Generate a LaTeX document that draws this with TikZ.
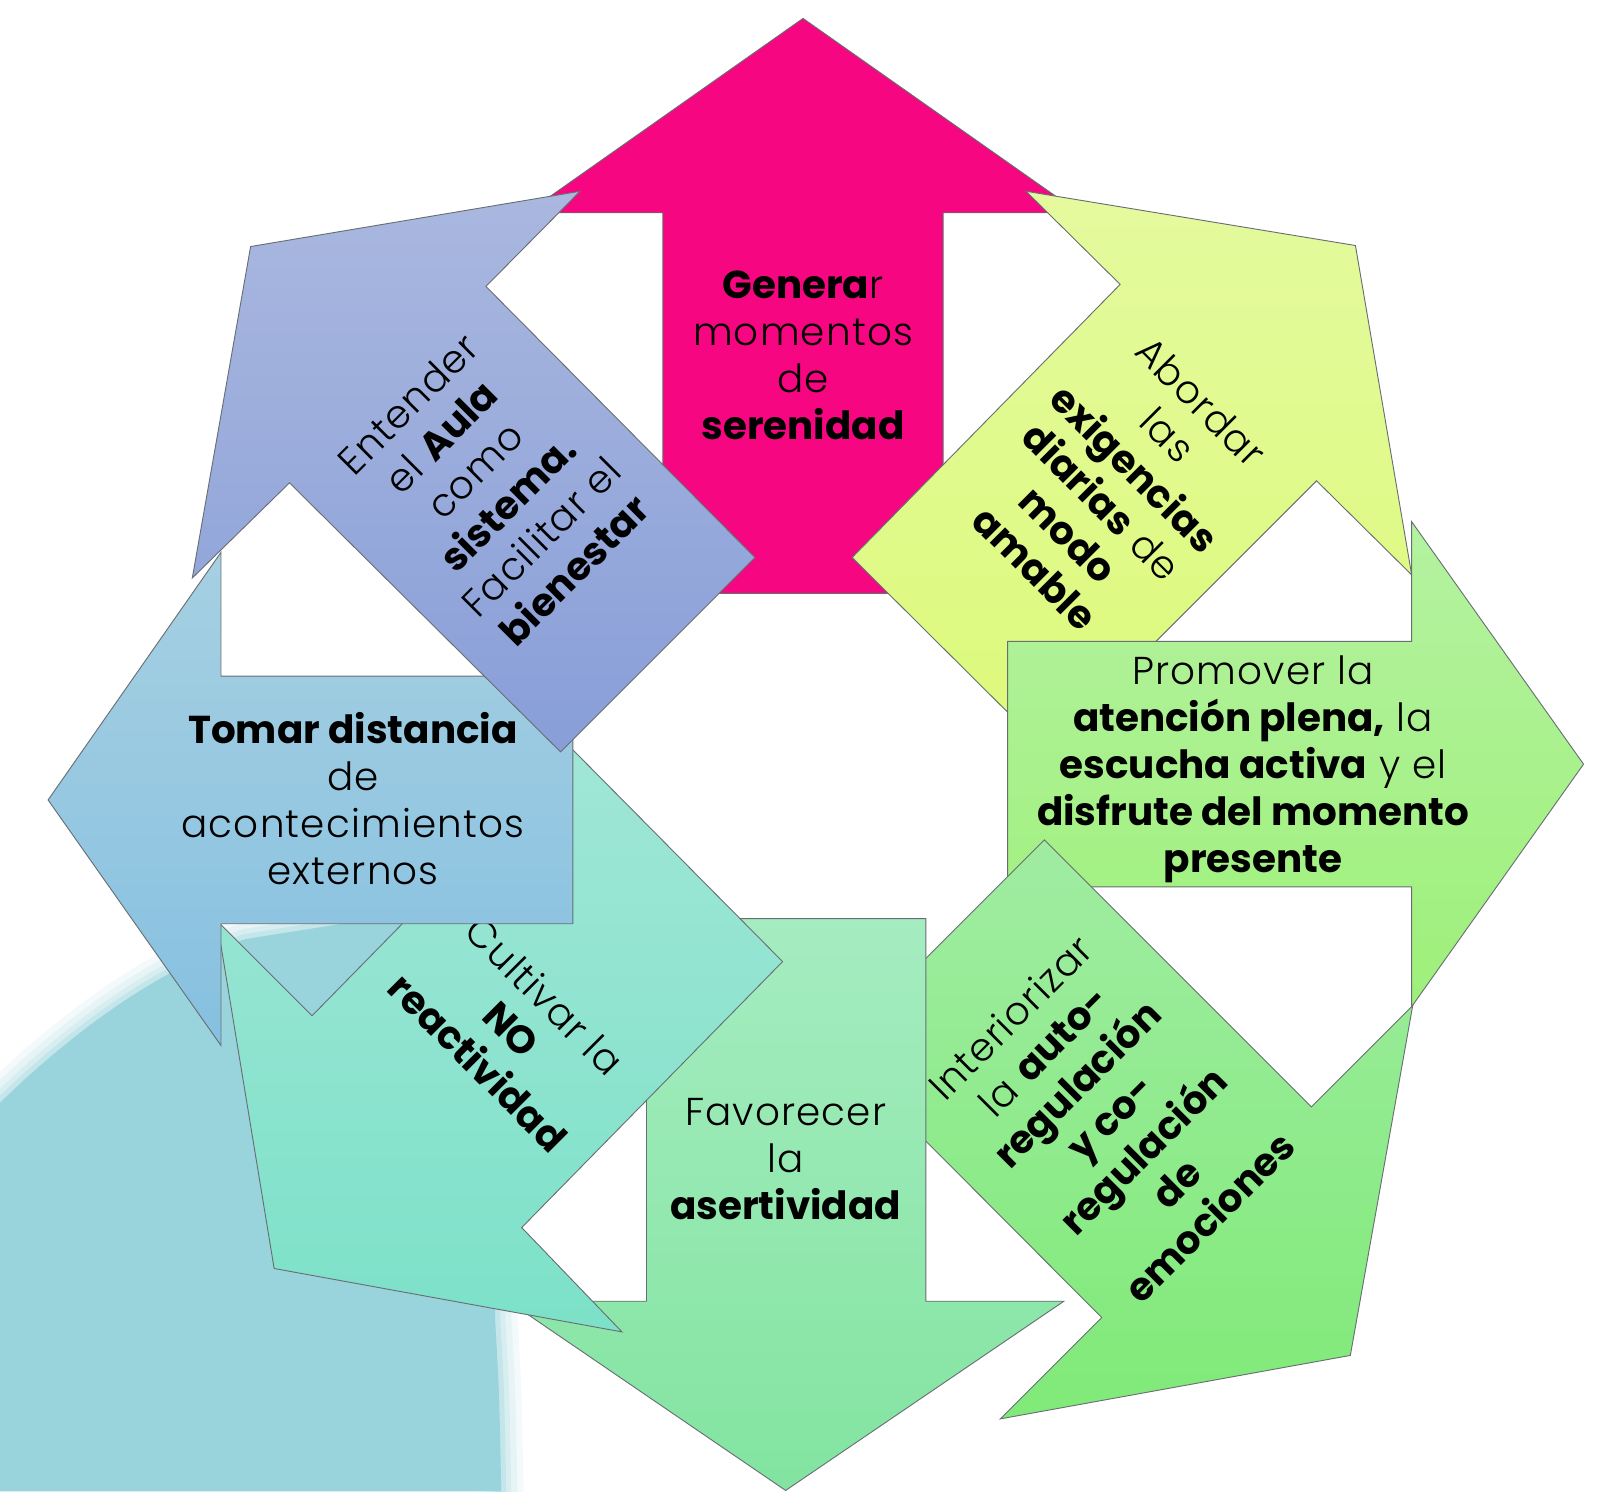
\documentclass[tikz,border=0pt]{standalone}
\usepackage{fontspec}
\setmainfont{Poppins}[UprightFont={* Light}, BoldFont={* Bold}, UprightFeatures={LetterSpace=3}]
\definecolor{cM}{RGB}{246,6,128}
\definecolor{cYt}{RGB}{228,250,158}
\definecolor{cYb}{RGB}{220,250,122}
\definecolor{cGt}{RGB}{180,242,160}
\definecolor{cGb}{RGB}{158,240,122}
\definecolor{cSEt}{RGB}{160,236,162}
\definecolor{cSEb}{RGB}{128,234,120}
\definecolor{cBt}{RGB}{165,236,192}
\definecolor{cBb}{RGB}{130,228,160}
\definecolor{cTt}{RGB}{160,230,215}
\definecolor{cTb}{RGB}{124,225,200}
\definecolor{cLt}{RGB}{166,208,226}
\definecolor{cLb}{RGB}{134,192,224}
\definecolor{cVt}{RGB}{170,184,223}
\definecolor{cVb}{RGB}{136,158,216}
\definecolor{cBlob}{RGB}{153,212,220}
\definecolor{cLine}{RGB}{105,110,115}
\tikzset{
  arr/.style={draw=cLine, line width=0.9pt, line join=miter},
  txt/.style={align=center, inner sep=0pt, text=black,
              font=\fontsize{38}{46}\selectfont},
}
\begin{document}
\begin{tikzpicture}[x=1pt,y=-1pt]
\useasboundingbox (0,0) rectangle (1568,1458);
\fill[white] (0,0) rectangle (1568,1458);
% background blob (soft edged)
\foreach \w/\o in {44/0.10,32/0.14,20/0.2,10/0.3}{
  \draw[cBlob, line width=\w pt, opacity=\o, line join=round]
    (0,1078) .. controls (70,1010) and (150,950) .. (240,918) -- (480,880)
    -- (484,1290) .. controls (488,1360) .. (490,1470);
}
\fill[cBlob] (0,1078) .. controls (70,1010) and (150,950) .. (240,918) -- (480,880)
    -- (484,1290) .. controls (488,1360) .. (490,1458) -- (0,1458) -- cycle;
% top (magenta)
\path[arr, fill=cM] (648,580) -- (648,208) -- (515,208) -- (785,18) -- (1055,208) -- (922,208) -- (922,580) -- cycle;
\node[txt] (tM) at (785,347) {\textbf{Genera}r\\momentos\\de\\\textbf{serenidad}};
% NE (yellow)
\path[arr, top color=cYt, bottom color=cYb] (833,545) -- (1095,278) -- (1003,187) -- (1325,240) -- (1380,562) -- (1287,470) -- (1023,734) -- cycle;
\node[txt, rotate=-45] (tY) at (1093,474) {Abordar\\las\\\textbf{exigencias}\\\textbf{diarias} de\\\textbf{modo}\\\textbf{amable}};
% E (green)
\path[arr, top color=cGt, bottom color=cGb] (985,627) -- (1380,627) -- (1380,510) -- (1548,747) -- (1380,984) -- (1380,867) -- (985,867) -- cycle;
\node[txt] (tG) at (1225,752) {Promover la\\\textbf{atención plena,} la\\\textbf{escucha activa} y el\\\textbf{disfrute del momento}\\\textbf{presente}};
% SE (green)
\path[arr, top color=cSEt, bottom color=cSEb] (1021,821) -- (1282,1082) -- (1381,983) -- (1320,1325) -- (978,1387) -- (1077,1288) -- (816,1026) -- cycle;
\node[txt, rotate=45] (tSE) at (1085,1092) {Interiorizar\\la \textbf{auto-}\\\textbf{regulación}\\\textbf{y co-}\\\textbf{regulación}\\\textbf{de}\\\textbf{emociones}};
% S (bottom)
\path[arr, top color=cBt, bottom color=cBb] (632,898) -- (905,898) -- (905,1272) -- (1040,1272) -- (768,1457) -- (497,1272) -- (632,1272) -- cycle;
\node[txt] (tB) at (768,1133) {Favorecer\\la\\\textbf{asertividad}};
% SW (teal)
\path[arr, top color=cTt, bottom color=cTb] (560,733) -- (765,940) -- (510,1200) -- (608,1302) -- (268,1240) -- (212,900) -- (305,993) -- cycle;
\node[txt, rotate=-45] (tT) at (500,1006) {Cultivar la\\\textbf{NO}\\\textbf{reactividad}};
% W (blue)
\path[arr, top color=cLt, bottom color=cLb] (560,661) -- (560,903) -- (216,903) -- (216,1022) -- (47,782) -- (216,540) -- (216,661) -- cycle;
\node[txt] (tL) at (345,781) {\textbf{Tomar distancia}\\de\\acontecimientos\\externos};
% NW (violet)
\path[arr, top color=cVt, bottom color=cVb] (738,545) -- (548,735) -- (283,472) -- (188,565) -- (245,241) -- (567,187) -- (475,280) -- cycle;
\node[txt, rotate=45] (tV) at (480,476) {Entender\\el \textbf{Aula}\\como\\\textbf{sistema.}\\Facilitar el\\\textbf{bienestar}};
\end{tikzpicture}
\end{document}
